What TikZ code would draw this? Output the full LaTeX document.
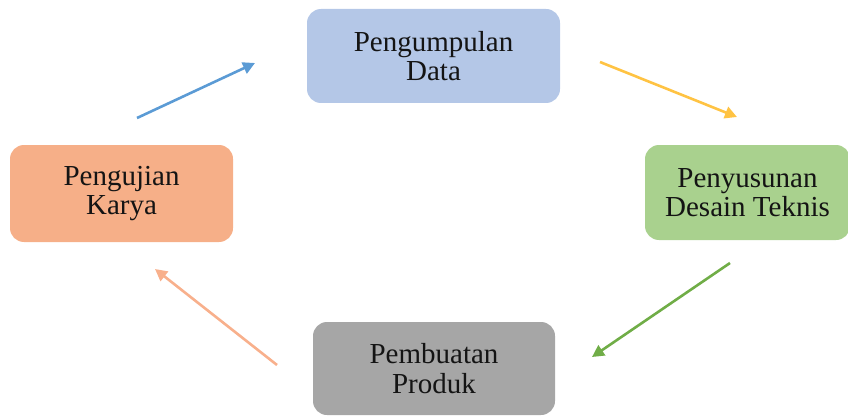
\documentclass[tikz,border=0pt]{standalone}
\usepackage{fontspec}
\setmainfont{Liberation Serif}
\usepackage{tikz}
\usetikzlibrary{arrows.meta,positioning}
\definecolor{datac}{HTML}{B4C7E7}
\definecolor{desc}{HTML}{A9D18E}
\definecolor{prodc}{HTML}{A6A6A6}
\definecolor{ujic}{HTML}{F6AF88}
\definecolor{arblue}{HTML}{5B9BD5}
\definecolor{aryel}{HTML}{FFC343}
\definecolor{argrn}{HTML}{70AD47}
\definecolor{arora}{HTML}{F8B08C}
\tikzset{
  tahap/.style={fill=#1,draw=none,rounded corners=14pt,align=center,inner sep=0pt,
                font=\fontsize{29}{29.5}\selectfont,text=black!92},
  tahap/.default=datac,
  alur/.style={-{Triangle[length=12pt,width=12pt]},line width=2.6pt,draw=#1},
  alur/.default=arblue,
}

\begin{document}
\begin{tikzpicture}[x=1pt,y=-1pt]
  \useasboundingbox (0,0) rectangle (848,417);
  \node[tahap=datac,minimum width=253pt,minimum height=94pt] (data)   at (433.5,56)  {Pengumpulan\\Data};
  \node[tahap=desc, minimum width=205pt,minimum height=95pt] (desain) at (747.5,192.5) {Penyusunan\\Desain Teknis};
  \node[tahap=prodc,minimum width=242pt,minimum height=93pt] (produk) at (434,368.5) {Pembuatan\\Produk};
  \node[tahap=ujic, minimum width=223pt,minimum height=97pt] (karya)  at (121.5,193.5) {Pengujian\\Karya};
  % ujung panah
  \coordinate (b1) at (137,118); \coordinate (b2) at (255,63);
  \coordinate (y1) at (600,62);  \coordinate (y2) at (737,117);
  \coordinate (g1) at (730,263); \coordinate (g2) at (592,357);
  \coordinate (o1) at (277,365); \coordinate (o2) at (155,269);
  \draw[alur=arblue] (b1) -- (b2);
  \draw[alur=aryel]  (y1) -- (y2);
  \draw[alur=argrn]  (g1) -- (g2);
  \draw[alur=arora]  (o1) -- (o2);
\end{tikzpicture}
\end{document}
